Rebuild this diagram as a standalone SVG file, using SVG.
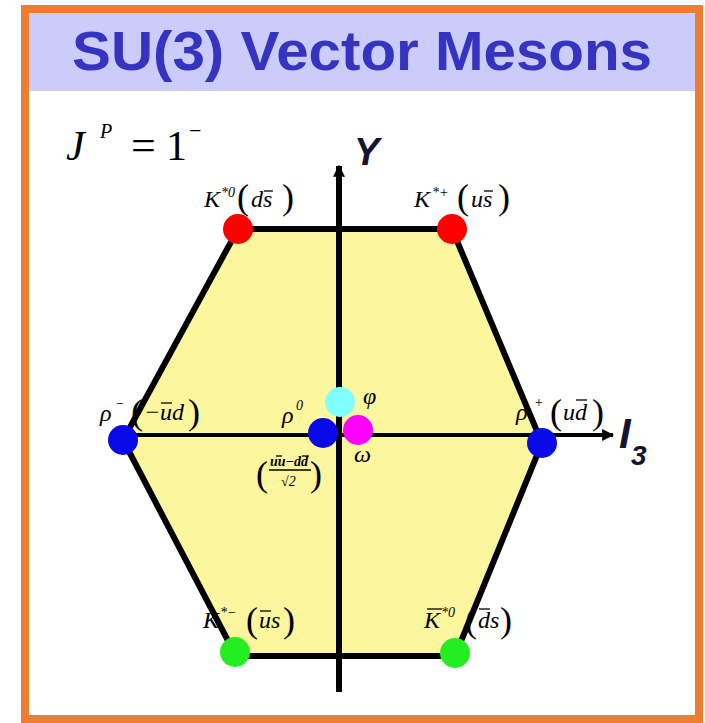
<svg xmlns="http://www.w3.org/2000/svg" width="705" height="723" viewBox="0 0 705 723">
<defs>
<style>
.lbl{font-family:"Liberation Serif",serif;font-style:italic;font-size:24px;fill:#000}
.par{font-family:"Liberation Serif",serif;font-style:normal;font-size:36px;fill:#000}
.sup{font-family:"Liberation Serif",serif;font-style:italic;font-size:14px;fill:#000}
.ov{stroke:#000;stroke-width:1.3}
.edge{stroke:#000;stroke-width:6;fill:none;stroke-linecap:round}
.axis{stroke:#000;fill:none}
.axlbl{font-family:"Liberation Sans",sans-serif;font-weight:bold;font-style:italic;fill:#141432}
</style>
<marker id="arr" viewBox="0 0 10 10" refX="9" refY="5" markerWidth="3" markerHeight="3" orient="auto" markerUnits="strokeWidth">
<path d="M0,0 L10,5 L0,10 z" fill="#000"/>
</marker>
<marker id="arrY" viewBox="0 0 10 10" refX="9" refY="5" markerWidth="2" markerHeight="2" orient="auto" markerUnits="strokeWidth">
<path d="M0,0 L10,5 L0,10 z" fill="#000"/>
</marker>
</defs>
<rect x="0" y="0" width="705" height="723" fill="#fff"/>
<g id="frame">
<rect x="25" y="9" width="674" height="710" fill="#fff" stroke="#ee7d31" stroke-width="8"/>
<rect x="29" y="13" width="666" height="78" fill="#ccccfa"/>
<text x="362" y="70" text-anchor="middle" font-family="Liberation Sans, sans-serif" font-weight="bold" font-size="55" fill="#3434c0" textLength="580" lengthAdjust="spacingAndGlyphs">SU(3) Vector Mesons</text>
</g>
<g id="jp">
<text x="66" y="160" font-family="Liberation Serif, serif" font-style="italic" font-size="42">J</text>
<text x="100" y="138" font-family="Liberation Serif, serif" font-style="italic" font-size="20">P</text>
<text x="131" y="160" font-family="Liberation Serif, serif" font-size="44">=</text>
<text x="166" y="160" font-family="Liberation Serif, serif" font-size="42">1</text>
<text x="189" y="138" font-family="Liberation Serif, serif" font-size="22">−</text>
</g>
<g id="hexagon">
<polygon points="238,229 452,229 542,443 455,655 236,655 123,440" fill="#fcf69e" stroke="none"/>
<path class="edge" d="M238,229 L452,229 L542,443 L455,656 L236,656 L123,440 Z"/>
</g>
<g id="connectors">
<line class="axis" x1="123" y1="435" x2="613" y2="435" stroke-width="4" marker-end="url(#arr)"/>
<line class="axis" x1="339" y1="692" x2="339" y2="166" stroke-width="6" marker-end="url(#arrY)"/>
</g>
<g id="axis-labels">
<text class="axlbl" x="354" y="165" font-size="38">Y</text>
<text class="axlbl" x="619" y="448" font-size="42">I</text>
<text class="axlbl" x="631" y="465" font-size="28">3</text>
</g>
<g id="K0">
<circle cx="238" cy="229" r="15" fill="#ff0000"/>
<text class="lbl" x="204" y="207">K</text>
<text class="sup" x="221" y="197">*0</text>
<text class="par" x="237" y="209">(</text>
<text class="lbl" x="251" y="207">ds</text>
<line class="ov" x1="264" y1="191" x2="273" y2="191"/>
<text class="par" x="282" y="209">)</text>
</g>
<g id="Kplus">
<circle cx="452" cy="229" r="15" fill="#ff0000"/>
<text class="lbl" x="414" y="207">K</text>
<text class="sup" x="432" y="197">*+</text>
<text class="par" x="457" y="209">(</text>
<text class="lbl" x="471" y="207">us</text>
<line class="ov" x1="484" y1="191" x2="493" y2="191"/>
<text class="par" x="498" y="209">)</text>
</g>
<g id="rhominus">
<circle cx="123" cy="440" r="15" fill="#0a0ae8"/>
<text class="lbl" x="100" y="421">ρ</text>
<text class="sup" x="115" y="408" font-style="normal">−</text>
<text class="par" x="131" y="424">(</text>
<text class="lbl" x="144" y="420" font-style="normal">−</text>
<text class="lbl" x="160" y="420">u</text>
<line class="ov" x1="161" y1="403" x2="172" y2="403"/>
<text class="lbl" x="172" y="420">d</text>
<text class="par" x="188" y="424">)</text>
</g>
<g id="rho0">
<circle cx="323" cy="433" r="15" fill="#0a0ae8"/>
<text class="lbl" x="282" y="423">ρ</text>
<text class="sup" x="296" y="410" font-style="normal">0</text>
<text class="par" x="256" y="486" font-size="40">(</text>
<text class="sup" x="270" y="466" font-size="12" font-weight="bold">uu−dd</text>
<line class="ov" x1="276" y1="456" x2="282" y2="456"/>
<line class="ov" x1="302" y1="456" x2="309" y2="456"/>
<line x1="269" y1="470" x2="311" y2="470" stroke="#000" stroke-width="1.5"/>
<text class="sup" x="281" y="486" font-size="14">√2</text>
<text class="par" x="310" y="486" font-size="40">)</text>
</g>
<g id="phi">
<circle cx="340" cy="402" r="15" fill="#80ffff"/>
<text class="lbl" x="363" y="404" font-size="22">φ</text>
</g>
<g id="omega">
<circle cx="358" cy="430" r="15" fill="#ff00ff"/>
<text class="lbl" x="354" y="462" font-size="20">ω</text>
</g>
<g id="rhoplus">
<text class="lbl" x="516" y="420">ρ</text>
<text class="sup" x="534" y="407" font-style="normal">+</text>
<text class="par" x="550" y="424">(</text>
<text class="lbl" x="563" y="420">ud</text>
<line class="ov" x1="576" y1="400" x2="587" y2="400"/>
<text class="par" x="592" y="424">)</text>
<circle cx="542" cy="443" r="15" fill="#0a0ae8"/>
</g>
<g id="Kminus">
<circle cx="235" cy="652" r="15" fill="#22ee22"/>
<text class="lbl" x="203" y="628">K</text>
<text class="sup" x="220" y="617">*−</text>
<text class="par" x="246" y="632">(</text>
<text class="lbl" x="259" y="628">us</text>
<line class="ov" x1="260" y1="611" x2="271" y2="611"/>
<text class="par" x="283" y="632">)</text>
</g>
<g id="K0bar">
<text class="lbl" x="424" y="628">K</text>
<line class="ov" x1="427" y1="609" x2="442" y2="609"/>
<text class="sup" x="441" y="617">*0</text>
<text class="par" x="465" y="632">(</text>
<text class="lbl" x="478" y="628">ds</text>
<line class="ov" x1="479" y1="609" x2="490" y2="609"/>
<text class="par" x="500" y="632">)</text>
<circle cx="455" cy="653" r="15" fill="#22ee22"/>
</g>
</svg>
